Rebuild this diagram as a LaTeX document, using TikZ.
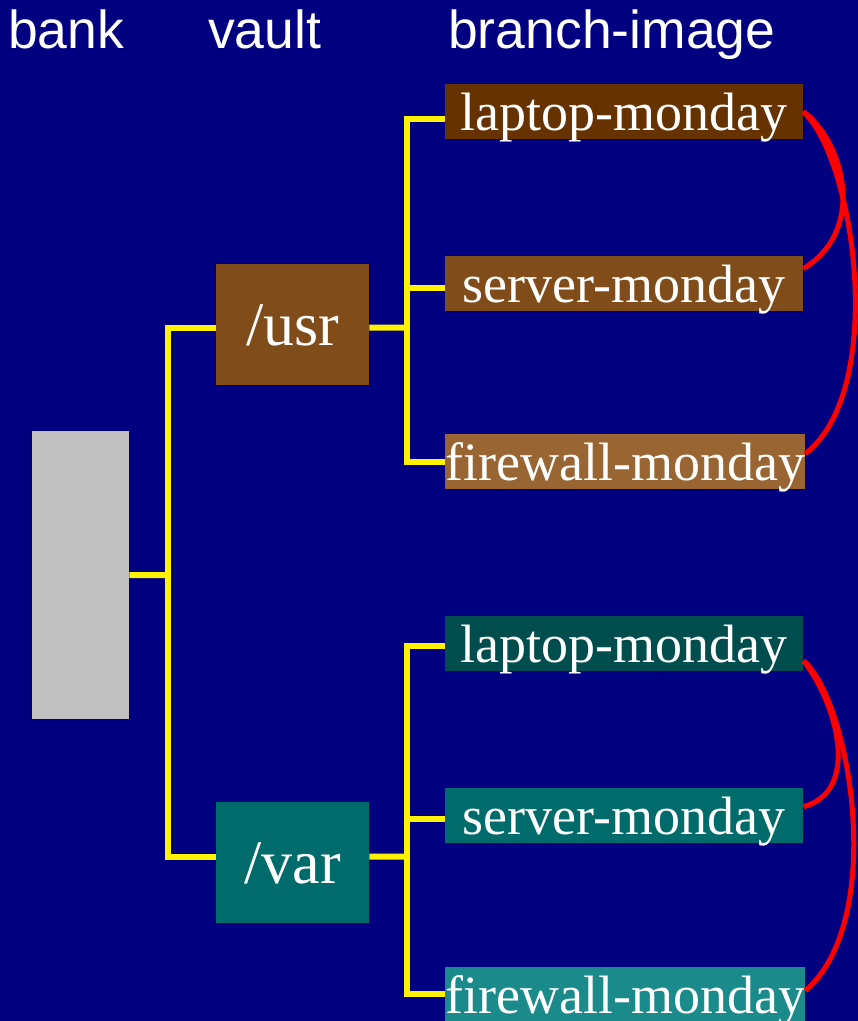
\documentclass[tikz,border=0pt]{standalone}
\usepackage{fontspec}
\newfontfamily\headfont{Liberation Sans}
\newfontfamily\boxfont{Liberation Serif}
\definecolor{navybg}{HTML}{000080}
\definecolor{bankgray}{HTML}{C0C0C0}
\definecolor{browndark}{HTML}{663300}
\definecolor{brownmid}{HTML}{804D1A}
\definecolor{brownlight}{HTML}{996633}
\definecolor{tealdark}{HTML}{004D4D}
\definecolor{tealmid}{HTML}{006B6B}
\definecolor{teallight}{HTML}{1A8A8A}
\tikzset{
  header/.style={anchor=base west, text=white, inner sep=0pt,
    font=\headfont\fontsize{53.5}{60}\selectfont},
  box/.style={anchor=north west, inner sep=0pt, text=white, text depth=0pt},
  vaultbox/.style={box, minimum width=153pt, minimum height=121pt,
    font=\boxfont\fontsize{62}{70}\selectfont},
  imagebox/.style={box, minimum width=358pt, minimum height=55pt,
    font=\boxfont\fontsize{54}{60}\selectfont},
  branchline/.style={draw=yellow, line width=6pt, line join=miter},
  linkcurve/.style={draw=red, line width=5pt},
}
\begin{document}
\begin{tikzpicture}[x=1pt, y=-1pt]
  \fill[navybg] (0,0) rectangle (858,1021);
  \useasboundingbox (0,0) rectangle (858,1021);

  % column headings
  \node[header] (hbank) at (8,48) {bank};
  \node[header] (hvault) at (208,48) {vault};
  \node[header] (himage) at (448,48) {branch-image};

  % bank
  \node[box, fill=bankgray, minimum width=97pt, minimum height=288pt] (bank) at (32,431) {};

  % vaults
  \node[vaultbox, fill=brownmid] (usr) at (216,264) {/usr};
  \node[vaultbox, fill=tealmid] (var) at (216,802) {/var};

  % branch images
  \node[imagebox, fill=browndark] (l1) at (445,84) {laptop-monday};
  \node[imagebox, fill=brownmid] (s1) at (445,256) {server-monday};
  \node[imagebox, fill=brownlight] (f1) at (445,434) {firewall-monday};
  \node[imagebox, fill=tealdark] (l2) at (445,616) {laptop-monday};
  \node[imagebox, fill=tealmid] (s2) at (445,788) {server-monday};
  \node[imagebox, fill=teallight] (f2) at (445,967) {firewall-monday};

  % tree junctions
  \coordinate (j1) at (168,575);
  \coordinate (j2) at (407,327.5);
  \coordinate (j3) at (407,856.5);

  % bank -> vaults
  \draw[branchline] (bank.east) -- (j1);
  \draw[branchline] (j1) |- ([yshift=-3pt]usr.west);
  \draw[branchline] (j1) |- ([yshift=6pt]var.west);

  % /usr -> images
  \draw[branchline] ([yshift=-3pt]usr.east) -- (j2);
  \draw[branchline] (j2) |- ([yshift=-7pt]l1.west);
  \draw[branchline] (j2) |- ([yshift=-4pt]s1.west);
  \draw[branchline] (j2) |- (f1.west);

  % /var -> images
  \draw[branchline] ([yshift=6pt]var.east) -- (j3);
  \draw[branchline] (j3) |- ([yshift=-2pt]l2.west);
  \draw[branchline] (j3) |- ([yshift=-3pt]s2.west);
  \draw[branchline] (j3) |- ([yshift=1pt]f2.west);

  % links between images
  \draw[linkcurve] (l1.east) .. controls +(39,28.5) and +(65,-40) .. ([yshift=15pt]s1.east);
  \draw[linkcurve] (l1.east) .. controls +(52,48.5) and +(82,-63) .. ([yshift=8pt]f1.east);
  \draw[linkcurve] ([yshift=-17pt]l2.east) .. controls +(32,40) and +(59,-16) .. ([yshift=9pt]s2.east);
  \draw[linkcurve] ([yshift=-17pt]l2.east) .. controls +(47,40) and +(82,-70) .. ([yshift=4pt]f2.east);
\end{tikzpicture}
\end{document}
